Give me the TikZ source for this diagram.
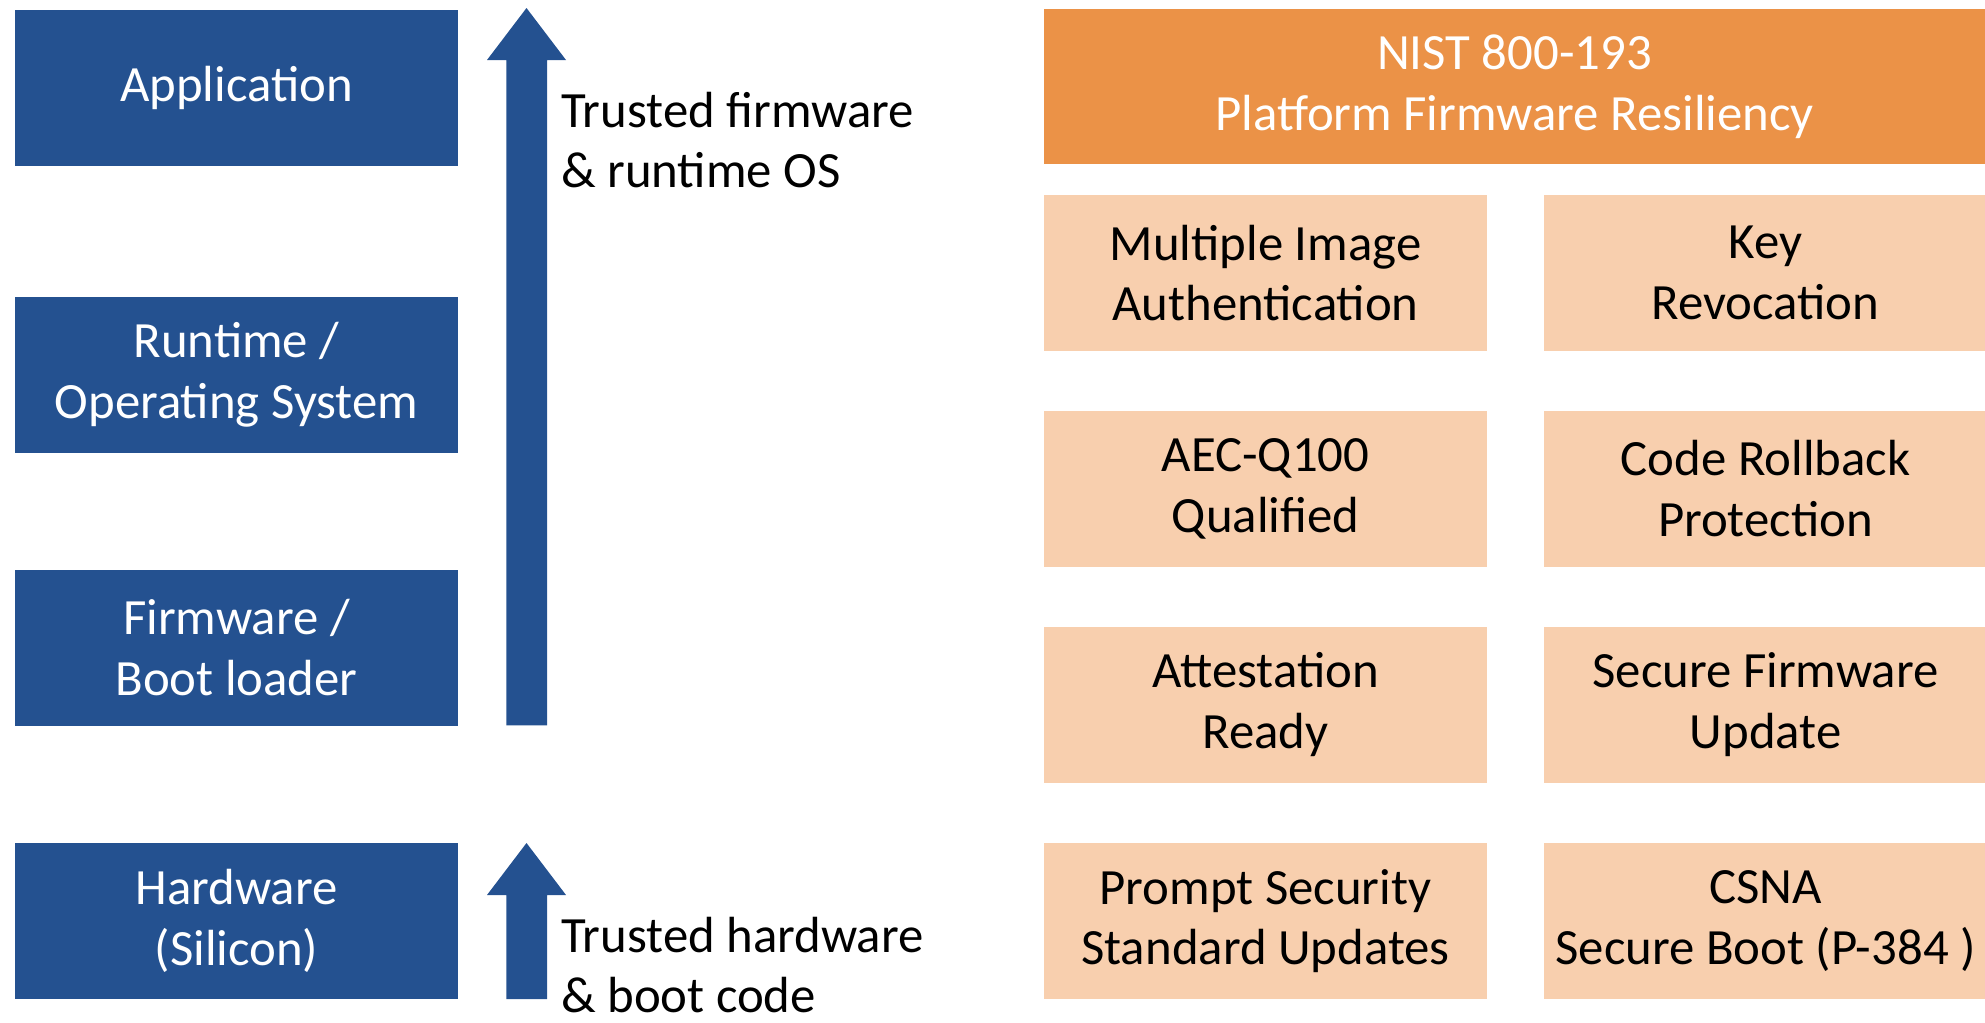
\documentclass[tikz,border=0pt]{standalone}
\usepackage{fontspec}
\setmainfont{Carlito}
\definecolor{blueb}{HTML}{245190}
\definecolor{orangeh}{HTML}{EB9247}
\definecolor{peach}{HTML}{F8CFAE}
\begin{document}
\begin{tikzpicture}[x=1bp,y=-1bp,
  txt/.style={font=\fontsize{51}{61}\selectfont, align=center, inner sep=0pt},
  bluebox/.style={txt, fill=blueb, text=white, minimum width=443bp, minimum height=156bp},
  hdrbox/.style={txt, fill=orangeh, text=white, minimum width=941bp, minimum height=155bp},
  peachbox/.style={txt, fill=peach, text=black, minimum width=443bp, minimum height=156bp},
  label/.style={font=\fontsize{51}{60}\selectfont, align=left, inner sep=0pt, anchor=west}]
\useasboundingbox (0,0) rectangle (1985,1022);
% left stack
\node[bluebox] (app) at (236.5,88) {Application};
\node[bluebox] (rt)  at (236.5,375) {Runtime /\\Operating System};
\node[bluebox] (fw)  at (236.5,647.5) {Firmware /\\Boot loader};
\node[bluebox] (hw)  at (236.5,920.5) {Hardware\\(Silicon)};
% big arrow
\coordinate (bigtip) at (526.5,8);
\fill[blueb] (506.4,725.4) -- (506.4,60) -- (487,60) -- (bigtip) -- (566,60) -- (547,60) -- (547,725.4) -- cycle;
% small arrow
\coordinate (smalltip) at (526.5,843);
\fill[blueb] (506.4,999) -- (506.4,895) -- (487,895) -- (smalltip) -- (566,895) -- (547,895) -- (547,999) -- cycle;
\node[label] (l1) at (561,140) {Trusted firmware\\\& runtime OS};
\node[label] (l2) at (561,965) {Trusted hardware\\\& boot code};
% right side
\node[hdrbox] (nist) at (1514.5,86.5) {NIST 800-193\\Platform Firmware Resiliency};
\node[peachbox] (a1) at (1265.5,273) {Multiple Image\\Authentication};
\node[peachbox] (b1) at (1765.5,273) {Key\\Revocation};
\node[peachbox] (a2) at (1265.5,488.5) {AEC-Q100\\Qualified};
\node[peachbox] (b2) at (1765.5,488.5) {Code Rollback\\Protection};
\node[peachbox] (a3) at (1265.5,704.5) {Attestation\\Ready};
\node[peachbox] (b3) at (1765.5,704.5) {Secure Firmware\\Update};
\node[peachbox] (a4) at (1265.5,921) {Prompt Security\\Standard Updates};
\node[peachbox] (b4) at (1765.5,921) {CSNA\\Secure Boot (P-384 )};
\end{tikzpicture}
\end{document}
